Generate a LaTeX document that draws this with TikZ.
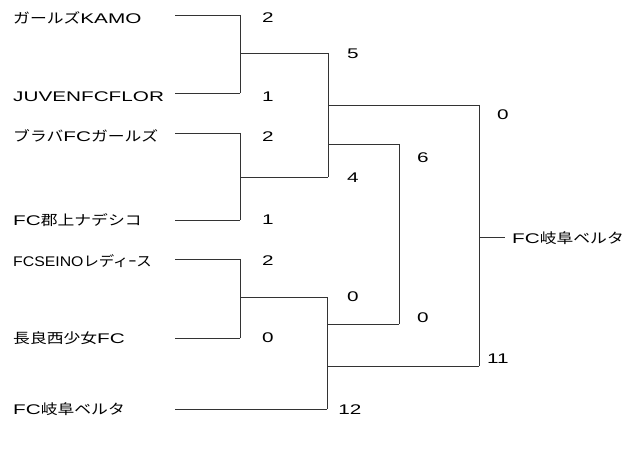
\documentclass[tikz,border=0pt]{standalone}
\usepackage{fontspec}
\setmainfont[FakeStretch=1.48]{Liberation Sans}
\newfontfamily\narrowfont[FakeStretch=1.13]{Liberation Sans}
\newfontfamily\jpfont[FakeStretch=1.2]{Noto Sans CJK JP}
\newfontfamily\jpnarrowfont[FakeStretch=1.1]{Noto Sans CJK JP}
\newcommand{\jp}[1]{{\jpfont #1}}
\begin{document}
\begin{tikzpicture}[x=1pt,y=-1pt]
    \tikzset{
        team/.style={anchor=west, inner sep=0pt, font=\fontsize{14}{16}\selectfont},
        score/.style={inner sep=0pt, font=\fontsize{14}{16}\selectfont},
        line/.style={draw=black!80, line width=0.8pt}
    }
    \useasboundingbox (0,0) rectangle (630,476);
    % teams
    \node[team] (t1) at (13,18) {\jp{ガールズ}KAMO};
    \node[team] (t2) at (13,97) {JUVENFCFLOR};
    \node[team] (t3) at (13,136) {\jp{ブラバ}FC\jp{ガールズ}};
    \node[team] (t4) at (13,220) {FC\jp{郡上ナデシコ}};
    \node[team] (t5) at (13,261) {{\narrowfont FCSEINO}{\jpnarrowfont レディｰス}};
    \node[team] (t6) at (13,338) {\jp{長良西少女}FC};
    \node[team] (t7) at (13,409) {FC\jp{岐阜ベルタ}};
    \node[team] (win) at (512,238) {FC\jp{岐阜ベルタ}};
    % line ends
    \coordinate (a1) at (175,15);  \coordinate (b1) at (240,15);
    \coordinate (a2) at (175,93);  \coordinate (b2) at (240,93);
    \coordinate (a3) at (175,133); \coordinate (b3) at (240,133);
    \coordinate (a4) at (175,220); \coordinate (b4) at (240,220);
    \coordinate (a5) at (175,259); \coordinate (b5) at (240,259);
    \coordinate (a6) at (175,338); \coordinate (b6) at (240,338);
    \coordinate (a7) at (175,409); \coordinate (b7) at (327,409);
    \coordinate (j1) at (240,53);  \coordinate (k1) at (328,53);
    \coordinate (j2) at (240,177); \coordinate (k2) at (328,177);
    \coordinate (j3) at (240,297); \coordinate (k3) at (327,297);
    \coordinate (m1) at (328,105); \coordinate (n1) at (479,105);
    \coordinate (m2) at (328,144); \coordinate (n2) at (399,144);
    \coordinate (m3) at (327,324); \coordinate (n3) at (399,324);
    \coordinate (m4) at (327,366); \coordinate (n4) at (479,366);
    \coordinate (f) at (479,237);  \coordinate (g) at (505,237);
    \foreach \x/\y in {%
        a1/b1,b1/b2,b2/a2,a3/b3,b3/b4,b4/a4,a5/b5,b5/b6,b6/a6,a7/b7,%
        j1/k1,j2/k2,j3/k3,k1/k2,k3/b7,m1/n1,m2/n2,m3/n3,m4/n4,n2/n3,n1/n4,f/g%
    }
    {
        \draw[line] (\x) -- (\y);
    }
    % scores
    \foreach \p/\s [count=\i] in {%
        {268,18}/2,{268,97}/1,{268,137}/2,{268,220}/1,{268,261}/2,{268,338}/0,%
        {353,54}/5,{353,178}/4,{353,297}/0,{350,410}/12,%
        {423,158}/6,{423,318}/0,{503,115}/0,{498,359}/11%
    }
    {
        \node[score] (s\i) at (\p) {\s};
    }
\end{tikzpicture}
\end{document}
